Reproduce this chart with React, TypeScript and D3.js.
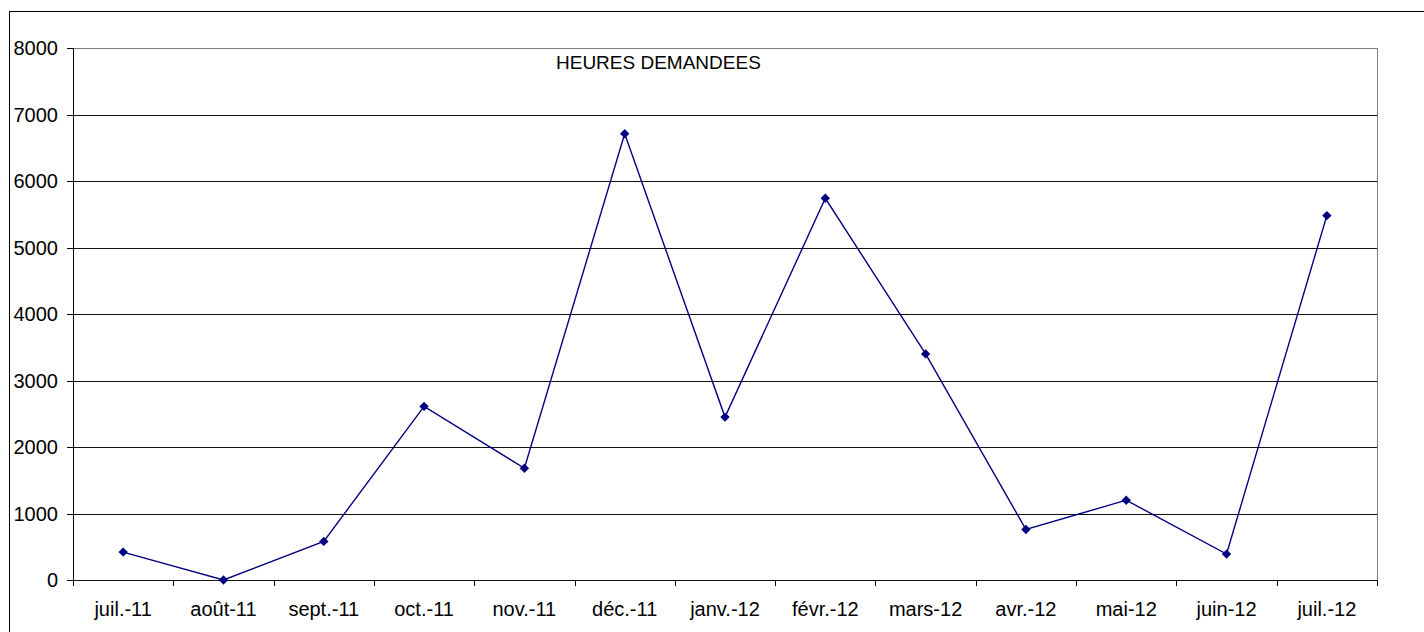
import React from "react";
import * as d3 from "d3";

const categories = ["juil.-11", "août-11", "sept.-11", "oct.-11", "nov.-11", "déc.-11", "janv.-12", "févr.-12", "mars-12", "avr.-12", "mai-12", "juin-12", "juil.-12"];
const heures = [420, 0, 580, 2610, 1680, 6710, 2450, 5740, 3400, 760, 1200, 390, 5480];
const yTicks = [0, 1000, 2000, 3000, 4000, 5000, 6000, 7000, 8000];
const title = "HEURES DEMANDEES";

export default function App() {
  const W = 1424, H = 632;
  const left = 73, right = 1377, top = 48, bottom = 580;
  const x = d3.scaleBand<string>().domain(categories).range([left, right]);
  const y = d3.scaleLinear().domain([0, 8000]).range([bottom, top]);
  const line = d3.line<number>().x((_, i) => x(categories[i])! + x.bandwidth() / 2).y(d => y(d));
  const font = "Arial, 'Liberation Sans', sans-serif";
  const diamond = d3.symbol().type(d3.symbolDiamond2).size(56)()!;
  const boundaries = [...categories.map(c => x(c)!), right];
  return (
    <svg width={W} height={H} style={{ position: "absolute", left: 0, top: 0, background: "#fff" }} fontFamily={font}>
      <rect x={9.5} y={11.5} width={1440} height={660} fill="#fff" stroke="#000" strokeWidth={1} />
      {yTicks.map(t => (
        <g key={t}>
          <line x1={left} x2={right} y1={Math.round(y(t)) + 0.5} y2={Math.round(y(t)) + 0.5} stroke={t === 8000 ? "#808080" : "#111"} strokeWidth={1} />
          <line x1={67} x2={left} y1={Math.round(y(t)) + 0.5} y2={Math.round(y(t)) + 0.5} stroke="#000" />
          <text x={58} y={y(t) + 7} textAnchor="end" fontSize={20} fill="#000">{t}</text>
        </g>
      ))}
      <line x1={right + 0.5} x2={right + 0.5} y1={top} y2={bottom} stroke="#808080" />
      <line x1={left + 0.5} x2={left + 0.5} y1={top} y2={bottom + 6} stroke="#000" />
      {boundaries.map((b, i) => (
        <line key={i} x1={Math.round(b) + 0.5} x2={Math.round(b) + 0.5} y1={bottom} y2={bottom + 6} stroke="#000" />
      ))}
      {categories.map(c => (
        <text key={c} x={x(c)! + x.bandwidth() / 2} y={616} textAnchor="middle" fontSize={20} fill="#000">{c}</text>
      ))}
      <text x={556} y={69} fontSize={19} fill="#000">{title}</text>
      <path d={line(heures)!} fill="none" stroke="#000080" strokeWidth={1.4} />
      {heures.map((v, i) => (
        <path key={i} d={diamond} transform={`translate(${x(categories[i])! + x.bandwidth() / 2},${y(v)})`} fill="#000080" />
      ))}
    </svg>
  );
}
